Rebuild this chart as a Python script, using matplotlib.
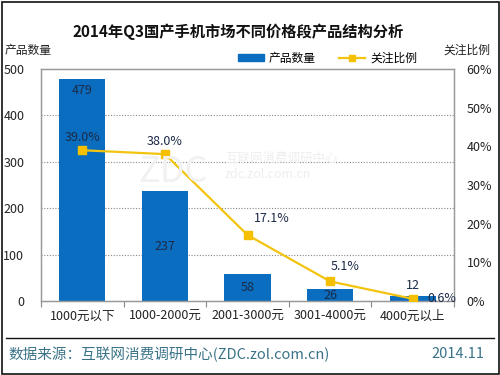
import matplotlib
matplotlib.use("Agg")
import numpy as np
import matplotlib.pyplot as plt
from matplotlib.lines import Line2D
from matplotlib.patches import Patch, Rectangle

plt.rcParams['font.family'] = ['Noto Sans CJK SC', 'DejaVu Sans']

categories = ["1000元以下", "1000-2000元", "2001-3000元", "3001-4000元", "4000元以上"]
counts = [479, 237, 58, 26, 12]
share = [39.0, 38.0, 17.1, 5.1, 0.6]
share_labels = ["39.0%", "38.0%", "17.1%", "5.1%", "0.6%"]

BLUE = "#0A6DC0"
GOLD = "#F2C40F"
TXT = "#1B2A45"

fig = plt.figure(figsize=(5, 3.75), dpi=100)
ax = fig.add_axes([0.082, 0.197, 0.826, 0.619])
ax2 = ax.twinx()

x = np.arange(len(categories))
ax.bar(x, counts, width=0.56, color=BLUE, zorder=2)
ax.set_xlim(-0.5, len(categories) - 0.5)
ax.set_ylim(0, 500)
ax.set_yticks(range(0, 501, 100))
for y in range(100, 500, 100):
    ax.axhline(y, color="#888888", lw=0.8, ls=(0, (1, 1.5)), zorder=1)

# bar value labels (positions picked like the original, to dodge the line)
bar_label_y = [counts[0] - 26, counts[1] / 2, counts[2] / 2, counts[3] / 2, counts[4] + 22]
for xi, v, ly in zip(x, counts, bar_label_y):
    ax.text(xi, ly, str(v), ha="center", va="center", fontsize=9, color=TXT, zorder=5)

ax2.plot(x, share, color=GOLD, lw=1.6, marker="s", ms=6, mfc="#F5C000", mec="#F5C000", zorder=4)
ax2.set_ylim(0, 60)
ax2.set_yticks(range(0, 61, 10))
ax2.set_yticklabels([f"{v}%" for v in range(0, 61, 10)])

offsets = [(0, 13), (0, 13), (24, 16), (15, 15), (29, 0)]
for xi, v, lab, (dx, dy) in zip(x, share, share_labels, offsets):
    ax2.annotate(lab, (xi, v), xytext=(dx, dy), textcoords="offset pixels",
                 ha="center", va="center", fontsize=9, color=TXT, zorder=6)

ax.set_xticks(np.arange(-0.5, len(categories), 1.0), minor=False)
ax.set_xticklabels([])
ax.set_xticks(x, minor=True)
ax.set_xticklabels(categories, minor=True, fontsize=9, color="#222222")
ax.tick_params(axis="x", which="major", length=4, color="#888888", direction="out")
ax.tick_params(axis="x", which="minor", length=0, pad=6)
ax.tick_params(axis="y", length=0, labelsize=9, labelcolor="#222222", pad=12)
ax2.tick_params(axis="y", length=0, labelsize=9, labelcolor="#222222", pad=9)

for a in (ax, ax2):
    for s in a.spines.values():
        s.set_color("#999999")
        s.set_linewidth(0.9)

# faint watermark
fig.text(0.346, 0.541, "ZDC", fontsize=26, color="#F1F1F1", ha="center", va="center", zorder=0)
fig.text(0.45, 0.579, "互联网消费调研中心", fontsize=9, color="#EEEEEE", ha="left", va="center")
fig.text(0.45, 0.536, "zdc.zol.com.cn", fontsize=9, color="#EEEEEE", ha="left", va="center")

fig.text(0.476, 0.915, "2014年Q3国产手机市场不同价格段产品结构分析", ha="center", va="center",
         fontsize=11, fontweight="bold", color="#111111")
fig.text(0.01, 0.866, "产品数量", ha="left", va="center", fontsize=8.5, color="#222222")
fig.text(0.98, 0.866, "关注比例", ha="right", va="center", fontsize=8.5, color="#222222")

handles = [Patch(color=BLUE),
           Line2D([0], [0], color=GOLD, lw=1.6, marker="s", ms=5, mfc="#F5C000", mec="#F5C000")]
fig.legend(handles, ["产品数量", "关注比例"], loc="center", bbox_to_anchor=(0.655, 0.845),
           ncol=2, frameon=False, fontsize=8.5, handlelength=2.2, handleheight=0.6,
           columnspacing=2.0, handletextpad=0.4)

fig.add_artist(Line2D([0.012, 0.988], [0.099, 0.099], color="#111111", lw=1.0))
fig.text(0.016, 0.055, "数据来源：互联网消费调研中心(ZDC.zol.com.cn)", ha="left", va="center",
         fontsize=10.5, color="#3A7388")
fig.text(0.968, 0.055, "2014.11", ha="right", va="center", fontsize=10.5, color="#3A7388")

fig.add_artist(Rectangle((0.003, 0.004), 0.994, 0.992, transform=fig.transFigure,
                         fill=False, ec="#111111", lw=1.2))

fig.savefig("out.png", dpi=100)
